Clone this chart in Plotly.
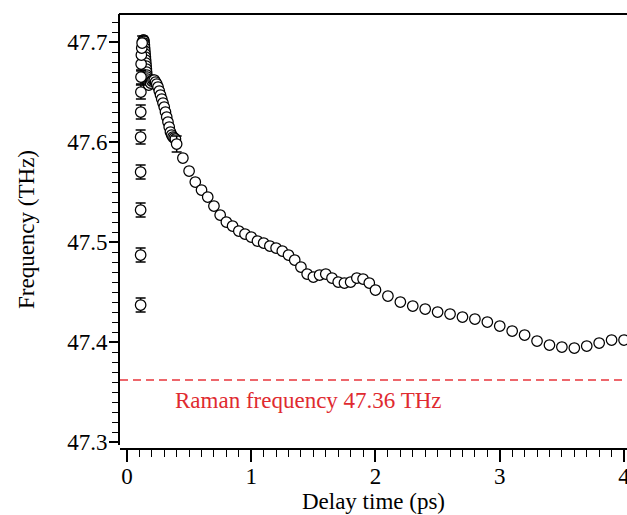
import plotly.graph_objects as go

# ---- data ----
# early points with visible error bars (onset)
early_t = [0.110, 0.110, 0.110, 0.110, 0.110, 0.111, 0.112, 0.113, 0.114, 0.116, 0.119, 0.122]
early_f = [47.437, 47.487, 47.532, 47.570, 47.605, 47.630, 47.650, 47.665, 47.678, 47.687, 47.694, 47.699]
early_err = [0.007] * len(early_t)

# dense part right after the peak
dense_t = [0.128, 0.130, 0.132, 0.134, 0.136, 0.138, 0.140, 0.142, 0.144, 0.146,
           0.148, 0.150, 0.152, 0.154, 0.156, 0.158, 0.160, 0.162, 0.164, 0.166,
           0.168, 0.170, 0.175, 0.19, 0.20, 0.21, 0.22, 0.23, 0.24, 0.25,
           0.26, 0.27, 0.28, 0.29, 0.30, 0.31, 0.32, 0.33, 0.34, 0.35,
           0.36, 0.37, 0.38, 0.39]
dense_f = [47.699, 47.701, 47.702, 47.702, 47.701, 47.699, 47.697, 47.694, 47.691, 47.688,
           47.685, 47.682, 47.679, 47.676, 47.673, 47.670, 47.667, 47.665, 47.663, 47.661,
           47.659, 47.658, 47.657, 47.659, 47.661, 47.662, 47.662, 47.660, 47.658, 47.655,
           47.651, 47.647, 47.643, 47.639, 47.635, 47.630, 47.625, 47.620, 47.615, 47.610,
           47.607, 47.605, 47.604, 47.603]

# point with error bar just after dense part
mid_t = [0.40]
mid_f = [47.598]
mid_err = [0.008]

# sparse part
sparse_t = [0.45, 0.50, 0.55, 0.60, 0.65, 0.70, 0.75, 0.80, 0.85, 0.90,
            0.95, 1.00, 1.05, 1.10, 1.15, 1.20, 1.25, 1.30, 1.35, 1.40,
            1.45, 1.50, 1.55, 1.60, 1.65, 1.70, 1.75, 1.80, 1.85, 1.90,
            1.95, 2.00, 2.10, 2.20, 2.30, 2.40, 2.50, 2.60, 2.70, 2.80,
            2.90, 3.00, 3.10, 3.20, 3.30, 3.40, 3.50, 3.60, 3.70, 3.80,
            3.90, 4.00]
sparse_f = [47.584, 47.571, 47.560, 47.552, 47.545, 47.536, 47.527, 47.520, 47.516, 47.511,
            47.508, 47.505, 47.501, 47.499, 47.496, 47.494, 47.491, 47.487, 47.482, 47.475,
            47.468, 47.465, 47.467, 47.468, 47.464, 47.460, 47.459, 47.460, 47.464, 47.463,
            47.459, 47.452, 47.446, 47.440, 47.436, 47.433, 47.430, 47.428, 47.425, 47.423,
            47.420, 47.416, 47.411, 47.407, 47.401, 47.397, 47.395, 47.394, 47.396, 47.399,
            47.402, 47.402]

raman_f = 47.362
raman_label = "Raman frequency 47.36 THz"

x_range = [-0.056, 4.024]
y_range = [47.297, 47.728]

FONT = "Liberation Serif"
marker = dict(symbol="circle", size=10.5, color="white",
              line=dict(color="black", width=1.25))

fig = go.Figure()

fig.add_trace(go.Scatter(
    x=dense_t + sparse_t, y=dense_f + sparse_f, mode="markers",
    marker=marker, showlegend=False, cliponaxis=False))
fig.add_trace(go.Scatter(
    x=early_t + mid_t, y=early_f + mid_f, mode="markers",
    marker=marker, showlegend=False, cliponaxis=False,
    error_y=dict(type="data", array=early_err + mid_err, visible=True,
                 color="black", thickness=1.5, width=5)))

# Raman reference line
fig.add_trace(go.Scatter(
    x=[x_range[0], x_range[1]], y=[raman_f, raman_f], mode="lines",
    line=dict(color="#e8353b", width=1.5, dash="8px,5px"),
    showlegend=False, hoverinfo="skip"))

fig.add_annotation(x=0.37, y=raman_f, xref="x", yref="y", yshift=-20,
                   text=raman_label, showarrow=False, xanchor="left",
                   yanchor="middle",
                   font=dict(family=FONT, size=23, color="#e02a30"))

# top frame line
fig.add_shape(type="line", xref="paper", yref="paper", x0=-0.002, x1=1.0,
              y0=1, y1=1, line=dict(color="black", width=2))

fig.update_layout(
    width=627, height=515,
    margin=dict(l=120, r=0, t=14, b=66, autoexpand=False),
    plot_bgcolor="white", paper_bgcolor="white",
    font=dict(family=FONT, size=23, color="black"),
    xaxis=dict(
        range=x_range, anchor="free", position=0,
        showgrid=False, zeroline=False,
        showline=True, linecolor="black", linewidth=2,
        ticks="outside", ticklen=12, tickwidth=1.5, tickcolor="black",
        tick0=0, dtick=1,
        minor=dict(dtick=0.1, tick0=0, ticks="outside", ticklen=7,
                   tickwidth=1.3, tickcolor="black", showgrid=False),
        title=dict(text="Delay time (ps)", standoff=4,
                   font=dict(family=FONT, size=23)),
        tickfont=dict(family=FONT, size=23),
        ticklabelstandoff=-6,
        ticklabeloverflow="allow",
        automargin=False,
    ),
    yaxis=dict(
        range=y_range, domain=[0.0092, 1],
        showgrid=False, zeroline=False,
        showline=True, linecolor="black", linewidth=2,
        ticks="outside", ticklen=9, tickwidth=1.5, tickcolor="black",
        tick0=47.3, dtick=0.1, tickformat=".1f",
        minor=dict(dtick=0.01, tick0=47.3, ticks="outside", ticklen=6,
                   tickwidth=1.3, tickcolor="black", showgrid=False),
        title=dict(text="Frequency (THz)", standoff=26,
                   font=dict(family=FONT, size=23)),
        tickfont=dict(family=FONT, size=23),
        ticklabelstandoff=-3,
        automargin=False,
    ),
)

fig.write_html("out.html")
